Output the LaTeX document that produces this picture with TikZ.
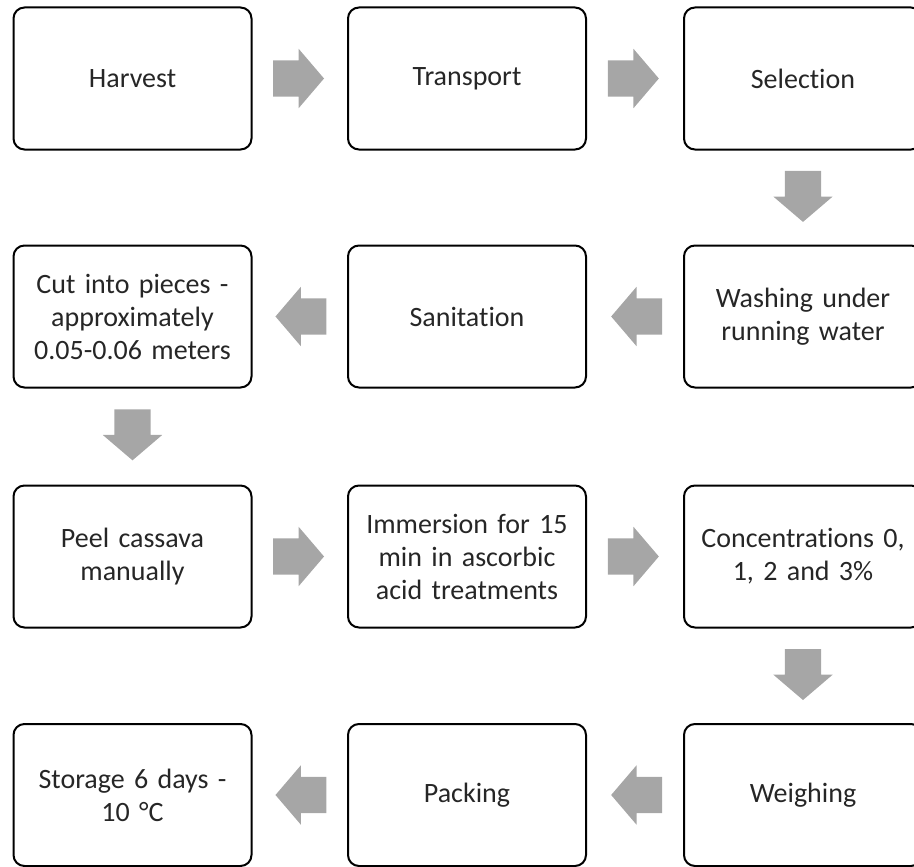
\documentclass[tikz,border=0pt]{standalone}
\usepackage{fontspec}
\setmainfont{Carlito}[Ligatures=NoCommon]
\usetikzlibrary{shapes.arrows}
\definecolor{arrowgray}{HTML}{A6A6A6}
\definecolor{txtgray}{HTML}{262626}
\begin{document}
\begin{tikzpicture}[x=1pt,y=-1pt,
  box/.style={draw=black, line width=2pt, rounded corners=11pt,
    minimum width=238pt, minimum height=142pt, align=center,
    text width=232pt, inner sep=0pt, text=txtgray,
    font=\fontsize{28}{33}\selectfont},
  blockarrow/.style={single arrow, fill=arrowgray, draw=none,
    inner sep=0pt, inner ysep=18pt, minimum height=51pt,
    single arrow head extend=11.5pt, single arrow tip angle=99,
    sloped, allow upside down, anchor=tail, pos=0.215}]
\useasboundingbox (0,0) rectangle (914,867);
% row 1
\node[box] (harvest)   at (132.5,78.5) {Harvest};
\node[box] (transport) at (467,78.5)   {Transport};
\node[box] (selection) at (803,78.5)   {Selection};
% row 2
\node[box] (cut)       at (132.5,316.5) {Cut into pieces -\\approximately\\0.05-0.06 meters};
\node[box] (sanit)     at (467,316.5)   {Sanitation};
\node[box] (washing)   at (803,316.5)   {Washing under\\running water};
% row 3
\node[box] (peel)      at (132.5,556.5) {Peel cassava\\manually};
\node[box] (immersion) at (467,556.5)   {Immersion for 15\\min in ascorbic\\acid treatments};
\node[box] (conc)      at (803,556.5)   {Concentrations 0,\\1, 2 and 3\%};
% row 4
\node[box] (storage)   at (132.5,795) {Storage 6 days -\\10 °C};
\node[box] (packing)   at (467,795)   {Packing};
\node[box] (weighing)  at (803,795)   {Weighing};
% connectors
\path (harvest) -- node[blockarrow] {} (transport);
\path (transport) -- node[blockarrow] {} (selection);
\path (selection) -- node[blockarrow] {} (washing);
\path (washing) -- node[blockarrow] {} (sanit);
\path (sanit) -- node[blockarrow] {} (cut);
\path (cut) -- node[blockarrow] {} (peel);
\path (peel) -- node[blockarrow] {} (immersion);
\path (immersion) -- node[blockarrow] {} (conc);
\path (conc) -- node[blockarrow] {} (weighing);
\path (weighing) -- node[blockarrow] {} (packing);
\path (packing) -- node[blockarrow] {} (storage);
\end{tikzpicture}
\end{document}
